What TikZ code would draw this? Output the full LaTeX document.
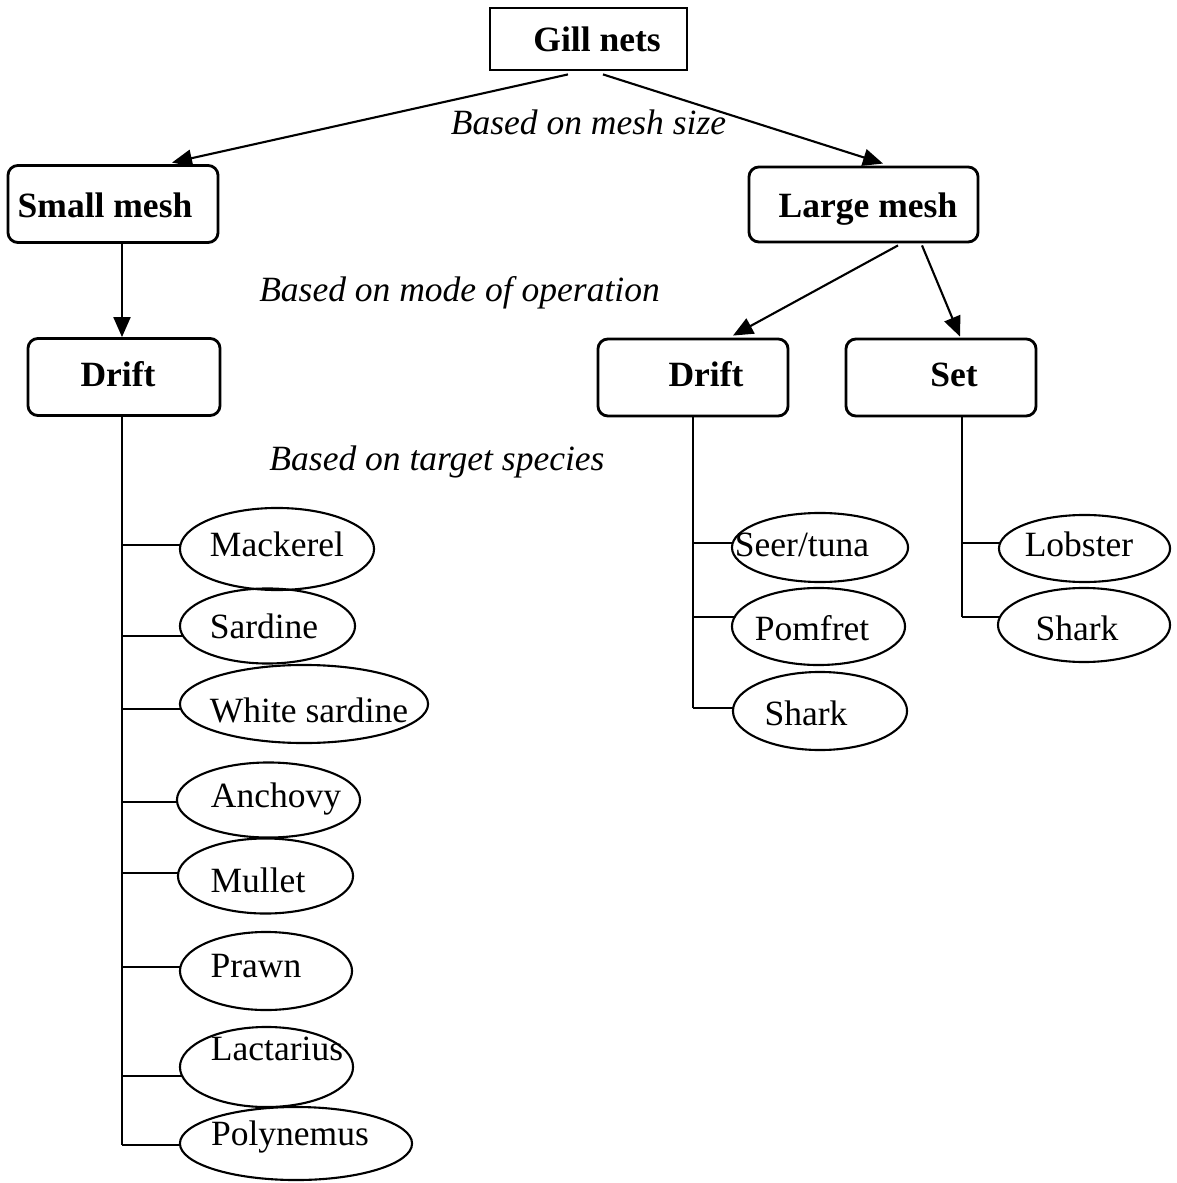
\documentclass[tikz,border=0pt]{standalone}
\usepackage{fontspec}
\setmainfont{Liberation Serif}
\usetikzlibrary{arrows.meta,shapes.geometric,calc}
\begin{document}
\begin{tikzpicture}[x=0.01cm,y=-0.01cm,
  txt/.style={anchor=base,inner sep=0pt,font=\fontsize{10.1pt}{12pt}\selectfont},
  head/.style={txt,font=\fontsize{10.1pt}{12pt}\selectfont\bfseries},
  note/.style={txt,font=\fontsize{10.1pt}{12pt}\selectfont\itshape},
  sqbox/.style={draw,line width=0.8pt,inner sep=0pt},
  rbox/.style={draw,line width=0.8pt,inner sep=0pt,rounded corners=0.1cm},
  fish/.style={draw,ellipse,line width=0.6pt,inner sep=0pt},
  arr/.style={-{Triangle[length=0.2cm,width=0.17cm]},line width=0.6pt},
  ln/.style={line width=0.6pt}]
\useasboundingbox (0,0) rectangle (1177,1183);

% boxes
\node[sqbox,minimum width=1.97cm,minimum height=0.62cm] (gill) at (588.5,39) {};
\node[rbox,minimum width=2.10cm,minimum height=0.77cm] (small) at (113,204) {};
\node[rbox,minimum width=2.29cm,minimum height=0.75cm] (large) at (863.5,204.5) {};
\node[rbox,minimum width=1.92cm,minimum height=0.77cm] (driftL) at (124,377) {};
\node[rbox,minimum width=1.90cm,minimum height=0.77cm] (driftR) at (693,377.5) {};
\node[rbox,minimum width=1.90cm,minimum height=0.77cm] (set) at (941,377.5) {};

\node[head] (tgill) at (597,52) {Gill nets};
\node[head] (tsmall) at (105,218) {Small mesh};
\node[head] (tlarge) at (868,218) {Large mesh};
\node[head] (tdriftL) at (118,387) {Drift};
\node[head] (tdriftR) at (706,387) {Drift};
\node[head] (tset) at (954,387) {Set};

% notes
\node[note] (n1) at (588.5,135) {Based on mesh size};
\node[note] (n2) at (459.5,302) {Based on mode of operation};
\node[note] (n3) at (437,471) {Based on target species};

% arrows
\draw[arr] ($(gill.south)+(-20.5,3)$) -- ($(small.north)+(59,-1.5)$);
\draw[arr] ($(gill.south)+(14.5,3)$) -- ($(large.north)+(19.5,-2)$);
\draw[arr] ($(small.south)+(9,0)$) coordinate (sd) -- (sd |- driftL.north);
\draw[arr] ($(large.south)+(34.5,2)$) -- ($(driftR.north)+(40,-2)$);
\draw[arr] ($(large.south)+(58.5,2)$) -- ($(set.north)+(19,-1)$);

% left species
\node[fish,minimum width=1.94cm,minimum height=0.82cm] (mack) at (277,549) {};
\node[fish,minimum width=1.75cm,minimum height=0.75cm] (sard) at (267.5,626) {};
\node[fish,minimum width=2.48cm,minimum height=0.78cm] (wsard) at (304,704) {};
\node[fish,minimum width=1.83cm,minimum height=0.75cm] (anch) at (268.5,800) {};
\node[fish,minimum width=1.75cm,minimum height=0.75cm] (mull) at (265.5,876) {};
\node[fish,minimum width=1.72cm,minimum height=0.78cm] (prawn) at (266,971) {};
\node[fish,minimum width=1.73cm,minimum height=0.80cm] (lact) at (266.5,1067) {};
\node[fish,minimum width=2.32cm,minimum height=0.73cm] (poly) at (296,1143.5) {};

\node[txt] (tmack) at (277,556) {Mackerel};
\node[txt] (tsard) at (264,638) {Sardine};
\node[txt] (twsard) at (309,722) {White sardine};
\node[txt] (tanch) at (276,807) {Anchovy};
\node[txt] (tmull) at (258,892) {Mullet};
\node[txt] (tprawn) at (256,977) {Prawn};
\node[txt] (tlact) at (277,1060) {Lactarius};
\node[txt] (tpoly) at (290,1145) {Polynemus};

\coordinate (tl) at ($(driftL.south)+(-2,0)$);
\coordinate (bmack) at ($(mack.center)+(-96.5,-4)$);
\coordinate (bsard) at ($(sard.center)+(-84.3,10)$);
\coordinate (bwsard) at ($(wsard.center)+(-123,5)$);
\coordinate (banch) at ($(anch.center)+(-91.4,2)$);
\coordinate (bmull) at ($(mull.center)+(-87.2,-3)$);
\coordinate (bprawn) at ($(prawn.center)+(-85.5,-4)$);
\coordinate (blact) at ($(lact.center)+(-84.3,9)$);
\coordinate (bpoly) at ($(poly.center)+(-116,1.5)$);

\draw[ln] (tl) -- (tl |- bpoly);
\foreach \p in {bmack,bsard,bwsard,banch,bmull,bprawn,blact,bpoly}
  \draw[ln] (tl |- \p) -- (\p);

% right drift species
\node[fish,minimum width=1.76cm,minimum height=0.69cm] (seer) at (820,547.5) {};
\node[fish,minimum width=1.73cm,minimum height=0.77cm] (pomf) at (818.5,626.5) {};
\node[fish,minimum width=1.74cm,minimum height=0.78cm] (shark) at (820,711) {};
\node[txt] (tseer) at (802,557) {Seer/tuna};
\node[txt] (tpomf) at (812,640) {Pomfret};
\node[txt] (tshark) at (806,725) {Shark};

\coordinate (tr) at (driftR.south);
\coordinate (bseer) at ($(seer.center)+(-87.2,-4.5)$);
\coordinate (bpomf) at ($(pomf.center)+(-83.8,-9.5)$);
\coordinate (bshark) at ($(shark.center)+(-86.7,-3)$);
\draw[ln] (tr) -- (tr |- bshark);
\foreach \p in {bseer,bpomf,bshark}
  \draw[ln] (tr |- \p) -- (\p);

% set species
\node[fish,minimum width=1.71cm,minimum height=0.67cm] (lob) at (1084.5,548.5) {};
\node[fish,minimum width=1.72cm,minimum height=0.74cm] (shark2) at (1084,625) {};
\node[txt] (tlob) at (1079,557) {Lobster};
\node[txt] (tshark2) at (1077,640) {Shark};

\coordinate (ts) at ($(set.south)+(21,0)$);
\coordinate (blob) at ($(lob.center)+(-84.3,-5.5)$);
\coordinate (bshark2) at ($(shark2.center)+(-84,-8)$);
\draw[ln] (ts) -- (ts |- bshark2);
\foreach \p in {blob,bshark2}
  \draw[ln] (ts |- \p) -- (\p);
\end{tikzpicture}
\end{document}
